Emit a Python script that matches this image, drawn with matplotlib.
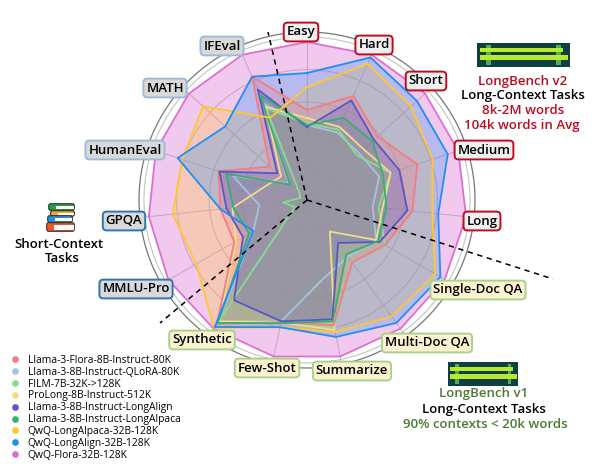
import numpy as np
import matplotlib
matplotlib.use("Agg")
import matplotlib.pyplot as plt
from matplotlib.patches import FancyBboxPatch, Rectangle
from matplotlib.lines import Line2D

plt.rcParams['font.family'] = ['Open Sans', 'DejaVu Sans']

categories = ["Easy", "Hard", "Short", "Medium", "Long", "Single-Doc QA", "Multi-Doc QA", "Summarize",
              "Few-Shot", "Synthetic", "MMLU-Pro", "GPQA", "HumanEval", "MATH", "IFEval"]

flora_8b = [90, 114, 95, 116, 106, 90, 77, 128, 125, 153, 84, 87, 93, 50, 135]
qlora = [75, 74, 70, 76, 66, 80, 70, 80, 124, 150, 62, 48, 78, 25, 105]
film = [77, 77, 67, 88, 72, 90, 77, 130, 125, 152, 14, 24, 7, 10, 100]
prolong = [82, 80, 76, 88, 76, 80, 39, 133, 125, 150, 82, 75, 44, 35, 102]
llama_align = [73, 109, 90, 97, 101, 84, 53, 122, 124, 124, 74, 81, 92, 40, 121]
llama_alpaca = [75, 90, 88, 80, 80, 82, 67, 124, 126, 152, 67, 74, 85, 23, 115]
qwq_alpaca = [113, 149, 140, 132, 126, 148, 144, 135, 130, 158, 128, 135, 131, 140, 90]
qwq_align = [127, 156, 148, 148, 132, 154, 152, 140, 130, 157, 62, 87, 136, 110, 135]
qwq_flora = [158, 159, 159, 159, 160, 159, 159, 160, 160, 159, 160, 159, 159, 159, 159]

names = ["Llama-3-Flora-8B-Instruct-80K", "Llama-3-8B-Instruct-QLoRA-80K", "FILM-7B-32K->128K",
         "ProLong-8B-Instruct-512K", "Llama-3-8B-Instruct-LongAlign", "Llama-3-8B-Instruct-LongAlpaca",
         "QwQ-LongAlpaca-32B-128K", "QwQ-LongAlign-32B-128K", "QwQ-Flora-32B-128K"]
series = [flora_8b, qlora, film, prolong, llama_align, llama_alpaca, qwq_alpaca, qwq_align, qwq_flora]
colors = ["#F47C84", "#A5C4E0", "#82E08C", "#F2DC8C", "#5B55C8", "#35B06E", "#FFC82E", "#1E90F5", "#DE6FD2"]
fill_order = [8, 6, 7, 1, 2, 3, 5, 0, 4]
line_order = [8, 1, 2, 3, 0, 4, 5, 6, 7]

W, H = 607, 476
fig = plt.figure(figsize=(W / 100, H / 100), dpi=100)

# polar chart, centre at pixel (307, 200)
R = 168
ax = fig.add_axes([(307 - R) / W, 1 - (200 + R) / H, 2 * R / W, 2 * R / H], projection='polar')
ax.set_theta_zero_location('N')
ax.set_theta_direction(-1)
ax.set_ylim(0, R)
theta = np.arange(len(categories)) * 2 * np.pi / len(categories)
ax.set_xticks(theta)
ax.set_xticklabels([])
ax.set_yticks([32.6, 65.2, 97.8, 130.4, 163])
ax.set_yticklabels([])
ax.set_axisbelow(True)
ax.grid(color='#c4c4c4', lw=0.8)
ax.spines['polar'].set_color('#777777')
ax.spines['polar'].set_linewidth(0.9)
ax.patch.set_alpha(0)

t = np.append(theta, theta[0])
for i in fill_order:
    v = np.append(series[i], series[i][0])
    ax.fill(t, v, color=colors[i], alpha=0.37 if i == 8 else 0.27, lw=0)
for i in line_order:
    v = np.append(series[i], series[i][0])
    ax.plot(t, v, color=colors[i], lw=1.3)

# overlay in pixel coordinates for the annotations
ov = fig.add_axes([0, 0, 1, 1])
ov.set_xlim(0, W)
ov.set_ylim(H, 0)
ov.axis('off')
ov.patch.set_alpha(0)

for end in [(268, 32), (160, 323), (553, 279)]:
    ov.plot([307, end[0]], [200, end[1]], color='black', lw=1.1, dashes=(3.5, 3))

RED = ('#F0F0F0', '#C00A1E')
GREY = ('#D9D9D9', '#9DBBDD')
BLUE = ('#D9D9D9', '#2E75B6')
GREEN = ('#FCF2D0', '#A9D18E')
label_pos = [(301, 32, RED), (374, 45, RED), (426, 81, RED), (484, 150, RED), (482, 221, RED),
             (478, 290, GREEN), (427, 343, GREEN), (352, 371, GREEN), (267, 368, GREEN), (202, 340, GREEN),
             (136, 289, BLUE), (124, 221, BLUE), (125, 150, GREY), (165, 88, GREY), (222, 46, GREY)]
for name, (x, y, (fc, ec)) in zip(categories, label_pos):
    ov.text(x, y, name, ha='center', va='center', fontsize=9.5, fontweight='semibold', color='black',
            bbox=dict(boxstyle='round,pad=0.22,rounding_size=0.3', fc=fc, ec=ec, lw=1.4), zorder=5)


def bench_icon(x, y, w, h):
    ov.add_patch(Rectangle((x, y), w, h, fc='#0F4040', ec='none', zorder=4))
    for px in (x + 0.1 * w, x + 0.85 * w):
        ov.add_patch(Rectangle((px, y + 0.08 * h), 0.05 * w, 0.84 * h, fc='#4CAF50', ec='none', zorder=4))
    ov.add_patch(Rectangle((x + 0.03 * w, y + 0.2 * h), 0.9 * w, 0.16 * h, fc='#B8E830', ec='none', zorder=5))
    ov.add_patch(Rectangle((x + 0.03 * w, y + 0.52 * h), 0.95 * w, 0.18 * h, fc='#B8E830', ec='none', zorder=5))


bench_icon(477, 43, 93, 24)
bench_icon(448, 362, 70, 24)

DRED = '#C00A1E'
DGREEN = '#4A7A34'
for x, y, s, c in [(523, 81, "LongBench v2", DRED), (523, 96, "Long-Context Tasks", 'black'),
                   (523, 111, "8k-2M words", DRED), (522, 126, "104k words in Avg", DRED),
                   (484, 394, "LongBench v1", DGREEN), (484, 410, "Long-Context Tasks", 'black'),
                   (485, 425, "90% contexts < 20k words", DGREEN)]:
    ov.text(x, y, s, ha='center', va='center', fontsize=9.5, fontweight='semibold', color=c)

# stack of books
for yy, hh, c, x0, wd in [(204, 6, '#1FA347', 49, 25), (211, 5, '#F5A623', 51, 23),
                          (216, 6, '#2C8FDD', 48, 24), (223, 8, '#E8562A', 47, 27)]:
    ov.add_patch(FancyBboxPatch((x0, yy), wd, hh, boxstyle='round,pad=0.3,rounding_size=2', fc=c, ec='#333333', lw=0.8))
    ov.add_patch(Rectangle((x0 + 7, yy + 1.5), wd - 7, hh - 3, fc='white', ec='none'))
ov.text(59, 244, "Short-Context", ha='center', va='center', fontsize=9.5, fontweight='semibold')
ov.text(62, 259, "Tasks", ha='center', va='center', fontsize=9.5, fontweight='semibold')

handles = [Line2D([], [], ls='', marker='o', ms=3.8, color=c) for c in colors]
leg = fig.legend(handles, names, loc='upper left', bbox_to_anchor=(8 / W, 1 - 355 / H), frameon=False,
                 fontsize=7.4, labelspacing=0.08, handletextpad=0.5, handlelength=1.4, borderpad=0, borderaxespad=0)

fig.savefig("out.png", dpi=100)
